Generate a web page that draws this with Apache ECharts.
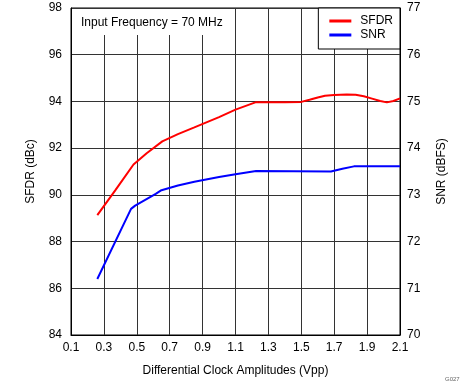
<!DOCTYPE html>
<html>
<head>
<meta charset="utf-8">
<script src="https://cdn.jsdelivr.net/npm/echarts@6/dist/echarts.min.js"></script>
<style>html,body{margin:0;padding:0;background:#fff;}#c{width:469px;height:382px;}</style>
</head>
<body>
<div id="c"></div>
<script>
var sfdrX = [0.26, 0.37, 0.48, 0.56, 0.655, 0.75, 0.85, 1.0, 1.1, 1.225, 1.4, 1.5, 1.55, 1.6, 1.644, 1.7, 1.776, 1.83, 1.88, 1.93, 1.98, 2.02, 2.06, 2.1];
var sfdrY = [89.13, 90.2, 91.3, 91.78, 92.29, 92.6, 92.89, 93.33, 93.65, 93.97, 93.97, 93.98, 94.07, 94.17, 94.24, 94.28, 94.30, 94.29, 94.22, 94.12, 94.02, 93.96, 94.02, 94.13];
var snrX = [0.26, 0.465, 0.49, 0.615, 0.65, 0.75, 0.85, 1.0, 1.1, 1.225, 1.68, 1.75, 1.82, 2.1];
var snrY = [71.2, 72.70, 72.77, 73.02, 73.10, 73.20, 73.28, 73.38, 73.44, 73.51, 73.50, 73.56, 73.61, 73.61];
var seriesNames = ['SFDR', 'SNR'];
var xTitle = 'Differential Clock Amplitudes (Vpp)';
var yLeftTitle = 'SFDR (dBc)';
var yRightTitle = 'SNR (dBFS)';
var noteText = 'Input Frequency = 70 MHz';

function pairs(xs, ys) { return xs.map(function (x, i) { return [x, ys[i]]; }); }

var FONT = '"Liberation Sans", Arial, sans-serif';
var chart = echarts.init(document.getElementById('c'), null, {renderer: 'canvas'});
chart.setOption({
  animation: false,
  backgroundColor: '#fff',
  textStyle: {fontFamily: FONT},
  grid: {left: 71, right: 69, top: 8, bottom: 46, show: true, borderColor: '#000', borderWidth: 1, backgroundColor: 'transparent'},
  legend: {
    data: seriesNames,
    orient: 'vertical',
    right: 69, top: 8,
    backgroundColor: '#fff',
    borderColor: '#000', borderWidth: 1,
    padding: [6, 7, 7, 11],
    itemGap: 0,
    itemWidth: 22, itemHeight: 3,
    icon: 'rect',
    textStyle: {fontFamily: FONT, fontSize: 12, color: '#000', padding: [0, 0, 0, 4], lineHeight: 14},
    z: 20
  },
  xAxis: {
    type: 'value', min: 0.1, max: 2.1, interval: 0.2,
    name: xTitle, nameLocation: 'middle', nameGap: 30,
    nameTextStyle: {fontFamily: FONT, fontSize: 12, color: '#000'},
    axisLine: {show: true, lineStyle: {color: '#000', width: 1}},
    axisTick: {show: false},
    axisLabel: {color: '#000', fontSize: 12, fontFamily: FONT, margin: 7, formatter: function (v) { return v.toFixed(1); }},
    splitLine: {show: true, lineStyle: {color: '#333', width: 1}}
  },
  yAxis: [{
    type: 'value', min: 84, max: 98, interval: 2, position: 'left',
    name: yLeftTitle, nameLocation: 'middle', nameGap: 34, nameRotate: 90,
    nameTextStyle: {fontFamily: FONT, fontSize: 12, color: '#000'},
    axisLine: {show: true, lineStyle: {color: '#000'}},
    axisTick: {show: false},
    axisLabel: {color: '#000', fontSize: 12, fontFamily: FONT, margin: 9},
    splitLine: {show: true, lineStyle: {color: '#333', width: 1}}
  }, {
    type: 'value', min: 70, max: 77, interval: 1, position: 'right',
    name: yRightTitle, nameLocation: 'middle', nameGap: 36, nameRotate: 90,
    nameTextStyle: {fontFamily: FONT, fontSize: 12, color: '#000'},
    axisLine: {show: true, lineStyle: {color: '#000'}},
    axisTick: {show: false},
    axisLabel: {color: '#000', fontSize: 12, fontFamily: FONT, margin: 7},
    splitLine: {show: false}
  }],
  series: [{
    name: seriesNames[0], type: 'line', yAxisIndex: 0,
    data: pairs(sfdrX, sfdrY), symbol: 'none', smooth: false,
    lineStyle: {color: '#ff0000', width: 2}, itemStyle: {color: '#ff0000'}
  }, {
    name: seriesNames[1], type: 'line', yAxisIndex: 1,
    data: pairs(snrX, snrY), symbol: 'none', smooth: false,
    lineStyle: {color: '#0000ff', width: 2}, itemStyle: {color: '#0000ff'}
  }],
  graphic: [
    {type: 'rect', z: 10, shape: {x: 72, y: 9, width: 157, height: 26}, style: {fill: '#fff'}},
    {type: 'text', z: 11, x: 81, y: 23, style: {text: noteText, fill: '#000', font: '12px ' + FONT, textVerticalAlign: 'middle'}},
    {type: 'text', z: 11, x: 445, y: 379, style: {text: 'G027', fill: '#666', font: '6px ' + FONT, textVerticalAlign: 'middle'}}
  ]
});
</script>
</body>
</html>
